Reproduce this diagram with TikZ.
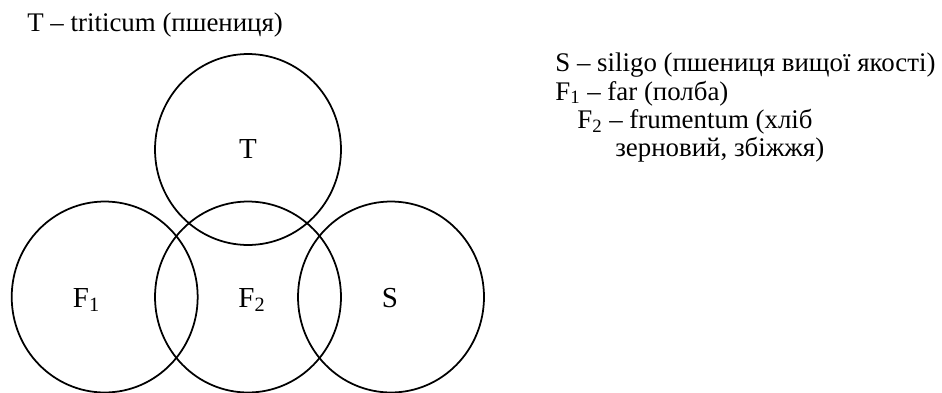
\documentclass[tikz,border=0pt]{standalone}
\usepackage{fontspec}
\setmainfont{Liberation Serif}
\usepackage{tikz}
\usetikzlibrary{positioning,shapes.geometric}
\tikzset{
  vnset/.style={draw, ellipse, line width=1pt, minimum width=3.72cm, minimum height=3.82cm, inner sep=0pt},
  vnlabel/.style={anchor=base, inner sep=0pt, font=\fontsize{16.5}{19}\selectfont},
  vnnote/.style={anchor=base west, inner sep=0pt, font=\vnfont},
}
\newcommand{\vnfont}{\fontsize{15.3}{18}\selectfont}

\begin{document}
\begin{tikzpicture}[x=0.02cm, y=-0.02cm]
  \useasboundingbox (0,0) rectangle (942,392);

  \node[vnset] (T) at (248,149.5) {};
  \node[vnset] (F1) at (104.7,297) {};
  \node[vnset] (F2) at (248,297) {};
  \node[vnset] (S) at (391,297) {};

  \node[vnlabel] (lT) at (248,158.3) {T};
  \node[vnlabel] (lF1) at (86.5,307.3) {F\textsubscript{1}};
  \node[vnlabel] (lF2) at (252,307.3) {F\textsubscript{2}};
  \node[vnlabel] (lS) at (390,307.3) {S};

  \node[vnnote] (nT) at (27,31.7) {T – triticum (пшениця)};
  \node[vnnote] (nS) at (555,71.7) {S – siligo (пшениця вищої якості)};
  \node[vnnote] (nF1) at (555,100) {F\textsubscript{1} – far (полба)};
  \node[vnnote] (nF2) at (577,128.3) {F\textsubscript{2} – frumentum (хліб};
  \node[vnnote] (nF2b) at (615,156.7) {зерновий, збіжжя)};
\end{tikzpicture}
\end{document}
